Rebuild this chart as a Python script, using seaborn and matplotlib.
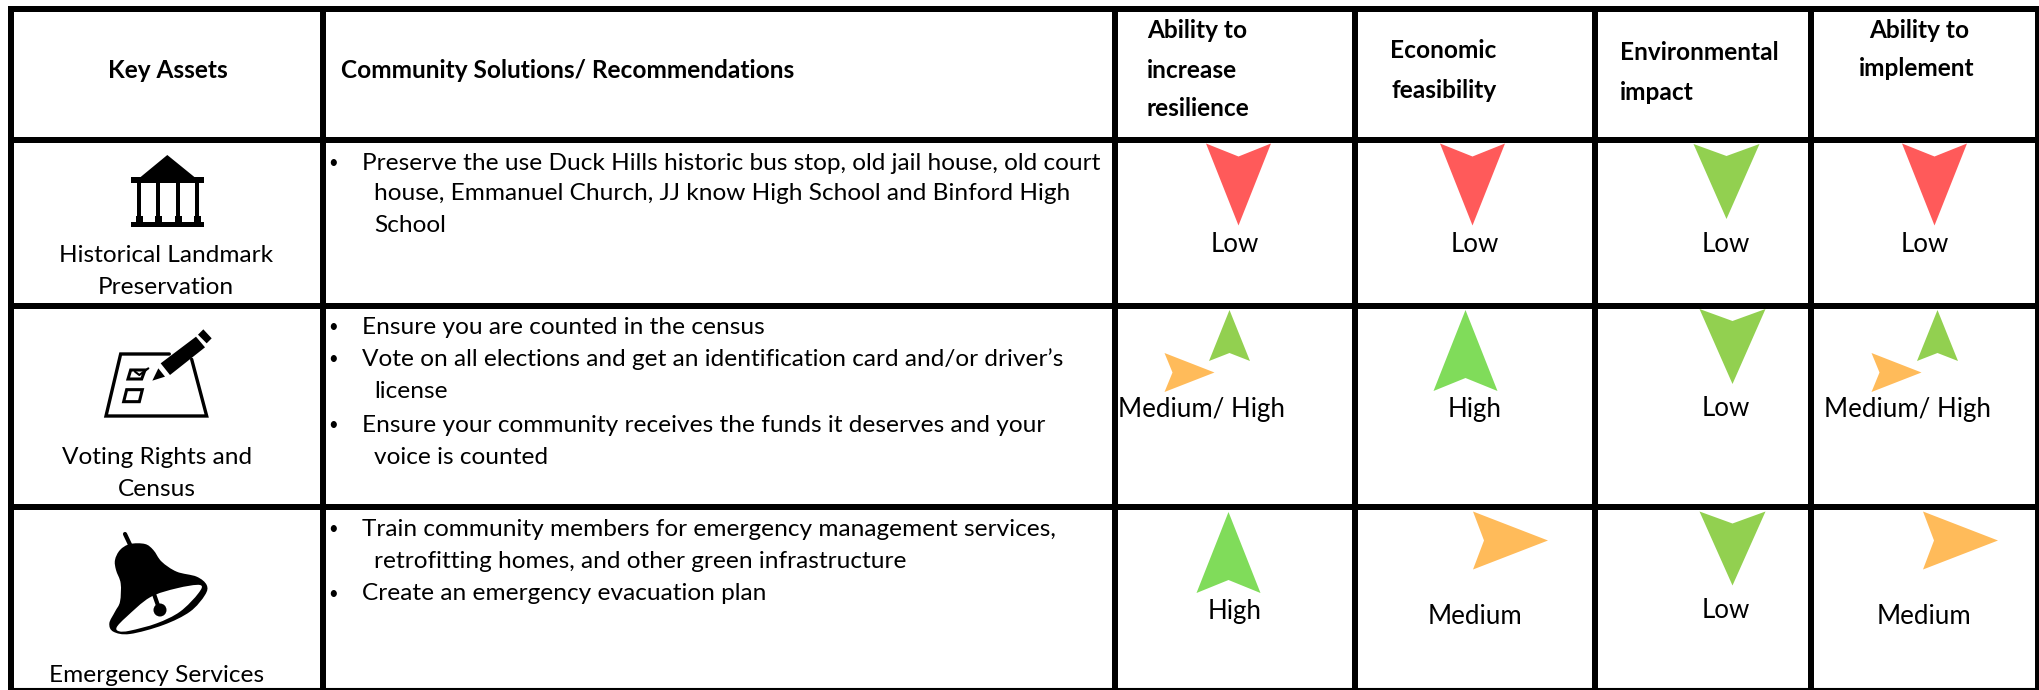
import numpy as np
import matplotlib
matplotlib.use("Agg")
import matplotlib.pyplot as plt
import seaborn as sns
from matplotlib.path import Path
from matplotlib.patches import PathPatch, Polygon, Rectangle, Circle

# Table content
key_assets = [["Historical Landmark", "Preservation"],
              ["Voting Rights and", "Census"],
              ["Emergency Services"]]
solutions = [
    [("•", "Preserve the use Duck Hills historic bus stop, old jail house, old court"),
     ("", "house, Emmanuel Church, JJ know High School and Binford High"),
     ("", "School")],
    [("•", "Ensure you are counted in the census"),
     ("•", "Vote on all elections and get an identification card and/or driver’s"),
     ("", "license"),
     ("•", "Ensure your community receives the funds it deserves and your"),
     ("", "voice is counted")],
    [("•", "Train community members for emergency management services,"),
     ("", "retrofitting homes, and other green infrastructure"),
     ("•", "Create an emergency evacuation plan")],
]
ratings = [["Low", "Low", "Low", "Low"],
           ["Medium/ High", "High", "Low", "Medium/ High"],
           ["High", "Medium", "Low", "Medium"]]

# Grid layout, in pixels of the 2040x690 picture
V_LINES = [11, 323, 1115, 1355, 1595.5, 1811, 2038]
H_LINES = [9, 140, 306, 507]
BODY_Y = [[163, 194, 225], [327, 359, 392, 425, 458], [529, 561, 594]]
ASSET_POS = [[(166, 256), (166, 288)], [(157, 457), (157, 490)], [(157, 675)]]
RATING_POS = [[(1235, 244), (1475, 244), (1726, 244), (1925, 244)],
              [(1201, 409), (1475, 409), (1726, 409), (1907, 409)],
              [(1235, 611), (1475, 617), (1726, 611), (1924, 617)]]

BLACK = "#000000"
RED = "#FF5A5A"
GREEN = "#92D050"
BRIGHT = "#80DC5A"
ORANGE = "#FFBB5A"

# direction, colour, centre x, centre y, width, height, notch
ARROWS = [
    ("down", RED, 1238.5, 184, 65, 82, 13),
    ("down", RED, 1472, 184, 65, 82, 13),
    ("down", GREEN, 1726, 180.5, 66, 75, 12),
    ("down", RED, 1934.5, 184, 65, 82, 13),
    ("up", GREEN, 1229.5, 334.5, 41, 51, 8),
    ("right", ORANGE, 1189, 371.5, 50, 39, 8),
    ("up", BRIGHT, 1465, 349.5, 64, 81, 13),
    ("down", GREEN, 1732, 345.5, 66, 75, 12),
    ("up", GREEN, 1937.5, 334.5, 41, 51, 8),
    ("right", ORANGE, 1896.5, 371.5, 50, 39, 8),
    ("up", BRIGHT, 1228, 551.5, 64, 81, 13),
    ("right", ORANGE, 1510.5, 540, 75, 58, 11),
    ("down", GREEN, 1732, 548, 66, 74, 12),
    ("right", ORANGE, 1960.5, 540, 75, 58, 11),
]

DPI = 100


def arrow_path(direction, w, h, notch):
    if direction == "down":
        verts = [(-w / 2, h / 2), (0, h / 2 - notch), (w / 2, h / 2), (0, -h / 2)]
    elif direction == "up":
        verts = [(-w / 2, -h / 2), (0, -h / 2 + notch), (w / 2, -h / 2), (0, h / 2)]
    else:
        verts = [(-w / 2, h / 2), (-w / 2 + notch, 0), (-w / 2, -h / 2), (w / 2, 0)]
    # matplotlib scales a custom marker by its largest coordinate
    verts = np.array(verts + [verts[0]], dtype=float) / max(w, h)
    codes = [Path.MOVETO, Path.LINETO, Path.LINETO, Path.LINETO, Path.CLOSEPOLY]
    return Path(verts, codes)


def smooth_closed(points):
    # closed Catmull-Rom outline turned into bezier segments
    pts = np.array(points, dtype=float)
    n = len(pts)
    verts = [pts[0]]
    codes = [Path.MOVETO]
    for i in range(n):
        p0, p1, p2, p3 = pts[i - 1], pts[i], pts[(i + 1) % n], pts[(i + 2) % n]
        verts += [p1 + (p2 - p0) / 6, p2 - (p3 - p1) / 6, p2]
        codes += [Path.CURVE4] * 3
    return Path(verts, codes)


def draw_temple(ax):
    ax.add_patch(Polygon([(167.3, 155), (140, 177.5), (195, 177.5)], color=BLACK, lw=0))
    ax.add_patch(Rectangle((130.7, 177.3), 73.3, 5.4, color=BLACK, lw=0))
    ax.add_patch(Rectangle((130.7, 221.7), 73.3, 5.6, color=BLACK, lw=0))
    for x in [139.3, 158.3, 178.3, 197.3]:
        ax.add_patch(Rectangle((x - 2, 182), 4, 40, color=BLACK, lw=0))
        ax.add_patch(Rectangle((x - 3.6, 216), 7.2, 6, color=BLACK, lw=0))


def draw_ballot(ax):
    def uv(points):
        return [(90 + u / 3, 320 + v / 3) for u, v in points]

    ax.plot(*zip(*uv([(238, 102), (92, 102), (48, 288), (350, 288), (305, 118)])),
            color=BLACK, lw=2.4, solid_joinstyle="miter")
    ax.add_patch(Polygon(uv([(122, 150), (165, 150), (155, 177), (114, 177)]),
                         fill=False, ec=BLACK, lw=2.2))
    ax.add_patch(Polygon(uv([(110, 209), (157, 209), (148, 245), (101, 245)]),
                         fill=False, ec=BLACK, lw=2.2))
    ax.plot(*zip(*uv([(135, 155), (148, 165), (175, 145)])), color=BLACK, lw=1.5)
    ax.add_patch(Polygon(uv([(212, 130), (318, 50), (345, 82), (240, 165)]), color=BLACK, lw=0))
    ax.add_patch(Polygon(uv([(187, 182), (205, 145), (225, 170)]), color=BLACK, lw=0))
    ax.add_patch(Polygon(uv([(324, 44), (340, 28), (365, 55), (350, 70)]), color=BLACK, lw=0))


def draw_bell(ax):
    def uv(points):
        return [(90 + u / 3, 520 + v / 3) for u, v in points]

    outer = uv([(75, 120), (90, 90), (120, 72), (165, 72), (190, 90), (215, 125),
                (260, 155), (320, 170), (350, 195), (345, 225), (300, 275), (220, 315),
                (120, 342), (70, 335), (58, 310), (75, 275), (90, 245), (92, 190), (78, 150)])
    inner = uv([(80, 322), (110, 290), (180, 232), (260, 205), (330, 195), (325, 220),
                (270, 275), (200, 310), (120, 332), (88, 334)])
    ax.add_patch(PathPatch(smooth_closed(outer), fc=BLACK, ec="none"))
    ax.add_patch(PathPatch(smooth_closed(inner), fc="white", ec="none"))
    ax.plot(*zip(*uv([(105, 42), (122, 78)])), color=BLACK, lw=3, solid_capstyle="round")
    ax.plot(*zip(*uv([(193, 225), (208, 268)])), color=BLACK, lw=3)
    ax.add_patch(Circle(uv([(210, 270)])[0], 6.5, color=BLACK, lw=0))


sns.set_theme(style="white")
plt.rcParams["font.family"] = ["Lato", "DejaVu Sans"]

fig, ax = plt.subplots(figsize=(20.4, 6.9), dpi=DPI)
fig.subplots_adjust(0, 0, 1, 1)
ax.set_axis_off()

# Grid
line_lw = 6 * 72 / DPI
for x in V_LINES:
    ax.plot([x, x], [6, 690], color=BLACK, lw=line_lw, solid_capstyle="butt")
for y in H_LINES:
    ax.plot([8, 2040], [y, y], color=BLACK, lw=line_lw, solid_capstyle="butt")
ax.plot([8, 2040], [688.5, 688.5], color=BLACK, lw=1.5, solid_capstyle="butt")

# Header
HEAD = dict(fontsize=17.6, fontweight="bold", color=BLACK, va="center")
ax.text(168, 71, "Key Assets", ha="center", **HEAD)
ax.text(341, 71, "Community Solutions/ Recommendations", ha="left", **HEAD)
for y, s in zip([30, 70, 108], ["Ability to", "increase", "resilience"]):
    ax.text(1147, y, s, ha="left", **HEAD)
for x, y, s in [(1390, 50, "Economic"), (1392, 90, "feasibility"),
                (1620, 52, "Environmental"), (1620, 92, "impact")]:
    ax.text(x, y, s, ha="left", **HEAD)
ax.text(1919, 30, "Ability to", ha="center", **HEAD)
ax.text(1917, 69, "implement", ha="center", **HEAD)

# Body text
BODY = dict(fontsize=17.6, color=BLACK, va="center")
for lines, ys in zip(solutions, BODY_Y):
    for (bullet, s), y in zip(lines, ys):
        if bullet:
            ax.text(328, y, bullet, ha="left", fontsize=12, color=BLACK, va="center")
            ax.text(362, y, s, ha="left", **BODY)
        else:
            ax.text(374, y, s, ha="left", **BODY)

for lines, positions in zip(key_assets, ASSET_POS):
    for s, (x, y) in zip(lines, positions):
        ax.text(x, y, s, ha="center", **BODY)

RATING = dict(fontsize=18.6, color=BLACK, va="center")
for row, positions in zip(ratings, RATING_POS):
    for s, (x, y) in zip(row, positions):
        ax.text(x, y, s, ha="center", **RATING)

# Rating arrows
for direction, color, cx, cy, w, h, notch in ARROWS:
    size = (max(w, h) * 72 / DPI) ** 2
    sns.scatterplot(x=[cx], y=[cy], marker=arrow_path(direction, w, h, notch), s=size,
                    color=color, linewidth=0, ax=ax, legend=False, zorder=3)

draw_temple(ax)
draw_ballot(ax)
draw_bell(ax)

ax.set_xlim(0, 2040)
ax.set_ylim(690, 0)

fig.savefig("out.png", dpi=DPI)
plt.close(fig)
